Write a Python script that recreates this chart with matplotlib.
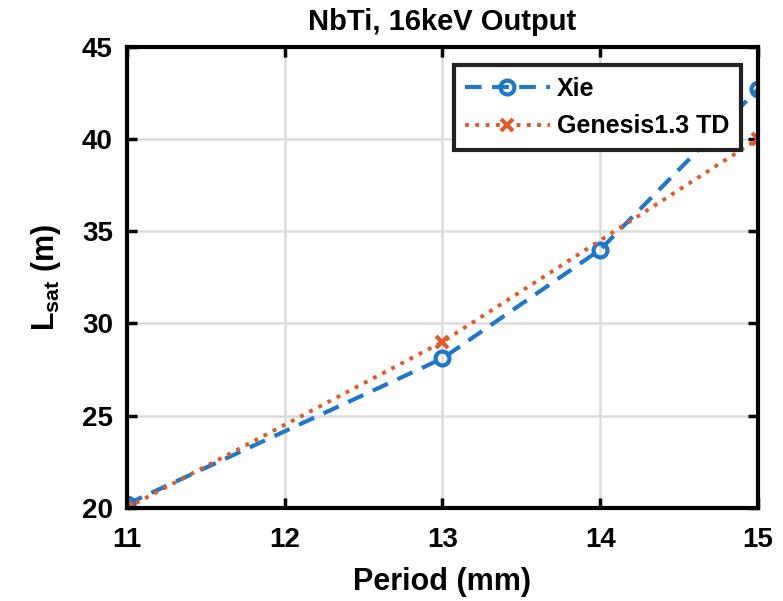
import matplotlib
matplotlib.use('Agg')
import matplotlib.pyplot as plt

xie_period = [11, 13, 14, 15]
xie_lsat = [20.2, 28.1, 34.0, 42.7]
gen_period = [11, 13, 15]
gen_lsat = [20.0, 29.0, 40.0]

plt.rcParams['font.family'] = ['Liberation Sans', 'DejaVu Sans']
plt.rcParams['font.weight'] = 'bold'
plt.rcParams['mathtext.fontset'] = 'custom'
plt.rcParams['mathtext.bf'] = 'Liberation Sans:bold'
plt.rcParams['mathtext.rm'] = 'Liberation Sans:bold'
plt.rcParams['mathtext.default'] = 'bf'

fig = plt.figure(figsize=(7.83, 6.01), dpi=100)
ax = fig.add_axes([0.162, 0.155, 0.806, 0.767])

ax.plot(xie_period, xie_lsat, '--o', color='#1f77c8', lw=3, ms=10,
        mfc='none', mew=3, dashes=(4, 2.5), label='Xie')
ax.plot(gen_period, gen_lsat, ':x', color='#e05a2a', lw=2.8, ms=8,
        mew=3, label='Genesis1.3 TD')

ax.set_xlim(11, 15)
ax.set_ylim(20, 45)
ax.set_xticks([11, 12, 13, 14, 15])
ax.set_yticks([20, 25, 30, 35, 40, 45])
ax.grid(True, color='#dcdcdc', lw=1.8)
ax.set_axisbelow(True)
ax.tick_params(direction='in', length=7, width=2.5, labelsize=20, top=True, right=True)
ax.tick_params(axis='x', pad=14)
ax.tick_params(axis='y', pad=10)
for s in ax.spines.values():
    s.set_linewidth(3)

ax.set_title('NbTi, 16keV Output', fontsize=21, fontweight='bold', pad=12)
ax.set_xlabel('Period (mm)', fontsize=22, fontweight='bold', labelpad=10)
ax.set_ylabel('L$_{sat}$ (m)', fontsize=22, fontweight='bold', labelpad=14)

leg = ax.legend(loc='upper right', bbox_to_anchor=(0.973, 0.96), fontsize=18,
                fancybox=False, framealpha=1, edgecolor='#222222', borderaxespad=0,
                handlelength=3.4, labelspacing=0.55, borderpad=0.45, handletextpad=0.3)
leg.get_frame().set_linewidth(3)

fig.savefig('out.png', dpi=100)
